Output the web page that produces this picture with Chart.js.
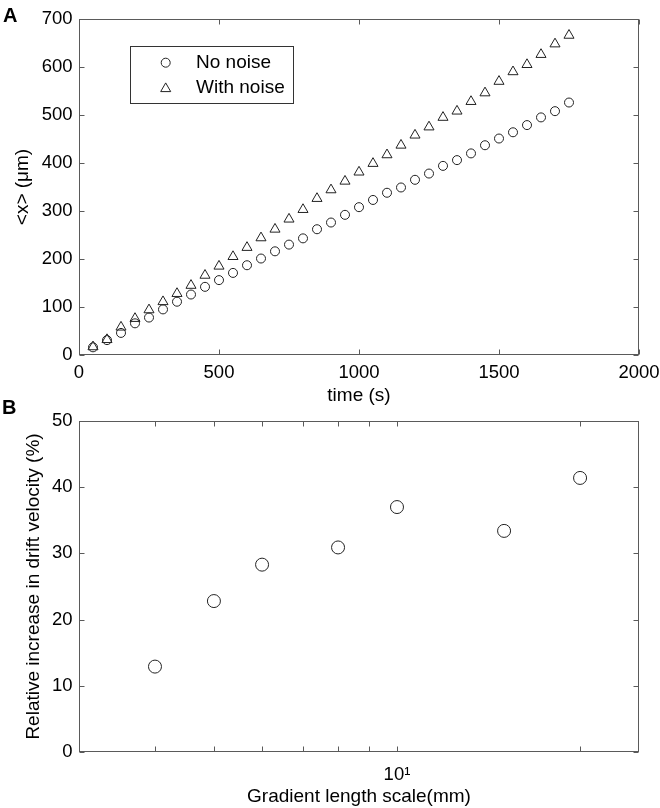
<!DOCTYPE html>
<html><head><meta charset="utf-8">
<script src="https://cdn.jsdelivr.net/npm/chart.js@4.4.0/dist/chart.umd.min.js"></script>
<style>
html,body{margin:0;padding:0;background:#fff;width:660px;height:808px;overflow:hidden;}
canvas{position:absolute;left:0;}
#c1{top:0;}
#c2{top:400px;}
.pl{position:absolute;font:bold 20px "Liberation Sans",Arial,sans-serif;line-height:20px;color:#000;}
</style></head><body>
<canvas id="c1" width="660" height="420" style="width:660px;height:420px"></canvas>
<canvas id="c2" width="660" height="408" style="width:660px;height:408px"></canvas>
<div class="pl" style="left:3px;top:5px">A</div>
<div class="pl" style="left:2px;top:397px">B</div>
<script>
// ---- Panel A data ----
const times = [50,100,150,200,250,300,350,400,450,500,550,600,650,700,750,800,850,900,950,1000,1050,1100,1150,1200,1250,1300,1350,1400,1450,1500,1550,1600,1650,1700,1750];
const noNoise = [16,31,46,66,78,95,111,126,142,156,171,187,201,216,230,243,262,276,292,308,323,338,349,365,378,394,406,420,437,451,464,479,495,508,526];
const withNoise = [17,32,58,76,94,111,128,145,166,185,205,224,244,262,283,303,326,344,362,381,399,417,437,458,475,495,508,528,546,570,590,605,626,648,666];
const xTicksA = [0,500,1000,1500,2000];
const yTicksA = [0,100,200,300,400,500,600,700];
const seriesNamesA = ['No noise','With noise'];
// ---- Panel B data ----
const gradientScale = [4,5,6,8,10,15,20];
const velocityIncrease = [12.9,22.8,28.3,30.9,37.0,33.4,41.4];
const xTicksB = [4,5,6,7,8,9,10,20];
const yTicksB = [0,10,20,30,40,50];

const FONT = '"Liberation Sans", Arial, Helvetica, sans-serif';
const INK = '#222';
const FRAME = '#5a5a5a';
const TRI_R = 5.8;
const CIRC_R = 4.5;

const framePlugin = {
  id: 'frame',
  beforeDatasetsDraw(chart){
    const {ctx, chartArea: a, scales: {x, y}} = chart;
    const L = Math.round(a.left) + 0.5, R = Math.round(a.right) - 0.5;
    const T = Math.round(a.top) + 0.5, B = Math.round(a.bottom) - 0.5;
    ctx.save();
    ctx.strokeStyle = FRAME; ctx.lineWidth = 1;
    ctx.strokeRect(L, T, R - L, B - T);
    ctx.beginPath();
    x.ticks.forEach(t => {
      const px = Math.round(x.getPixelForValue(t.value)) + 0.5;
      ctx.moveTo(px, B); ctx.lineTo(px, B - 5);
      ctx.moveTo(px, T); ctx.lineTo(px, T + 5);
    });
    y.ticks.forEach(t => {
      const py = Math.round(y.getPixelForValue(t.value)) + 0.5;
      ctx.moveTo(L, py); ctx.lineTo(L + 5, py);
      ctx.moveTo(R, py); ctx.lineTo(R - 5, py);
    });
    ctx.stroke();
    ctx.restore();
  }
};

const legendPlugin = {
  id: 'boxLegend',
  afterDraw(chart){
    const ctx = chart.ctx;
    const ds = chart.data.datasets;
    ctx.save();
    ctx.strokeStyle = '#333'; ctx.lineWidth = 1;
    ctx.strokeRect(130.5, 46.5, 163, 57);
    ctx.strokeStyle = INK; ctx.fillStyle = 'rgba(0,0,0,0)';
    Chart.helpers.drawPoint(ctx, {pointStyle: 'circle', radius: CIRC_R, borderWidth: 1}, 165.7, 62.7);
    Chart.helpers.drawPoint(ctx, {pointStyle: 'triangle', radius: TRI_R, borderWidth: 1}, 165.7, 88.7);
    ctx.fillStyle = '#000';
    ctx.font = '19px ' + FONT;
    ctx.textBaseline = 'middle'; ctx.textAlign = 'left';
    ctx.fillText(ds[0].label, 196, 63);
    ctx.fillText(ds[1].label, 196, 88);
    ctx.restore();
  }
};

const tickFont = {family: FONT, size: 18.5};
const titleFont = {family: FONT, size: 19};
const plain = v => String(v);
const noPad = s => { s.paddingLeft = 0; s.paddingRight = 0; s.paddingTop = 0; s.paddingBottom = 0; };

new Chart(document.getElementById('c1'), {
  type: 'scatter',
  data: {
    datasets: [
      {label: seriesNamesA[0], data: times.map((t, i) => ({x: t, y: noNoise[i]})),
       pointStyle: 'circle', pointRadius: CIRC_R, pointBorderWidth: 1,
       borderColor: INK, backgroundColor: 'rgba(0,0,0,0)', showLine: false},
      {label: seriesNamesA[1], data: times.map((t, i) => ({x: t, y: withNoise[i]})),
       pointStyle: 'triangle', pointRadius: TRI_R, pointBorderWidth: 1,
       borderColor: INK, backgroundColor: 'rgba(0,0,0,0)', showLine: false}
    ]
  },
  options: {
    responsive: false, animation: false, devicePixelRatio: 1,
    layout: {padding: {left: 0, right: 21, top: 19, bottom: 0}},
    plugins: {legend: {display: false}, tooltip: {enabled: false}},
    scales: {
      x: {type: 'linear', min: 0, max: 2000,
          afterBuildTicks: s => { s.ticks = xTicksA.map(v => ({value: v})); },
          afterFit: s => { s.height = 65; noPad(s); },
          grid: {display: false, drawTicks: false}, border: {display: false},
          ticks: {font: tickFont, color: '#000', padding: 7, maxRotation: 0, autoSkip: false, callback: plain},
          title: {display: true, text: 'time (s)', font: titleFont, color: '#000', padding: {top: 0, bottom: 12.6}}},
      y: {type: 'linear', min: 0, max: 700,
          afterBuildTicks: s => { s.ticks = yTicksA.map(v => ({value: v})); },
          afterFit: s => { s.width = 79; noPad(s); },
          grid: {display: false, drawTicks: false}, border: {display: false},
          ticks: {font: tickFont, color: '#000', padding: 6.5, callback: plain},
          title: {display: true, text: '<x> (μm)', font: titleFont, color: '#000', padding: {top: 11.6, bottom: 0}}}
    }
  },
  plugins: [framePlugin, legendPlugin]
});

new Chart(document.getElementById('c2'), {
  type: 'scatter',
  data: {
    datasets: [
      {label: 'Relative increase', data: gradientScale.map((g, i) => ({x: g, y: velocityIncrease[i]})),
       pointStyle: 'circle', pointRadius: 6.5, pointBorderWidth: 1,
       borderColor: INK, backgroundColor: 'rgba(0,0,0,0)', showLine: false}
    ]
  },
  options: {
    responsive: false, animation: false, devicePixelRatio: 1,
    layout: {padding: {left: 0, right: 21, top: 21, bottom: 0}},
    plugins: {legend: {display: false}, tooltip: {enabled: false}},
    scales: {
      x: {type: 'logarithmic', min: 3, max: 25,
          afterBuildTicks: s => { s.ticks = xTicksB.map(v => ({value: v})); },
          afterFit: s => { s.height = 56; noPad(s); },
          grid: {display: false, drawTicks: false}, border: {display: false},
          ticks: {font: tickFont, color: '#000', padding: 11.4, maxRotation: 0, autoSkip: false,
                  callback: v => (v === 10 ? '10¹' : '')},
          title: {display: true, text: 'Gradient length scale(mm)', font: titleFont, color: '#000', padding: {top: 0, bottom: 0}}},
      y: {type: 'linear', min: 0, max: 50,
          afterBuildTicks: s => { s.ticks = yTicksB.map(v => ({value: v})); },
          afterFit: s => { s.width = 79; noPad(s); },
          grid: {display: false, drawTicks: false}, border: {display: false},
          ticks: {font: tickFont, color: '#000', padding: 6.5, callback: plain},
          title: {display: true, text: 'Relative increase in drift velocity (%)', font: titleFont, color: '#000', padding: {top: 22.6, bottom: 0}}}
    }
  },
  plugins: [framePlugin]
});
</script>
</body></html>
